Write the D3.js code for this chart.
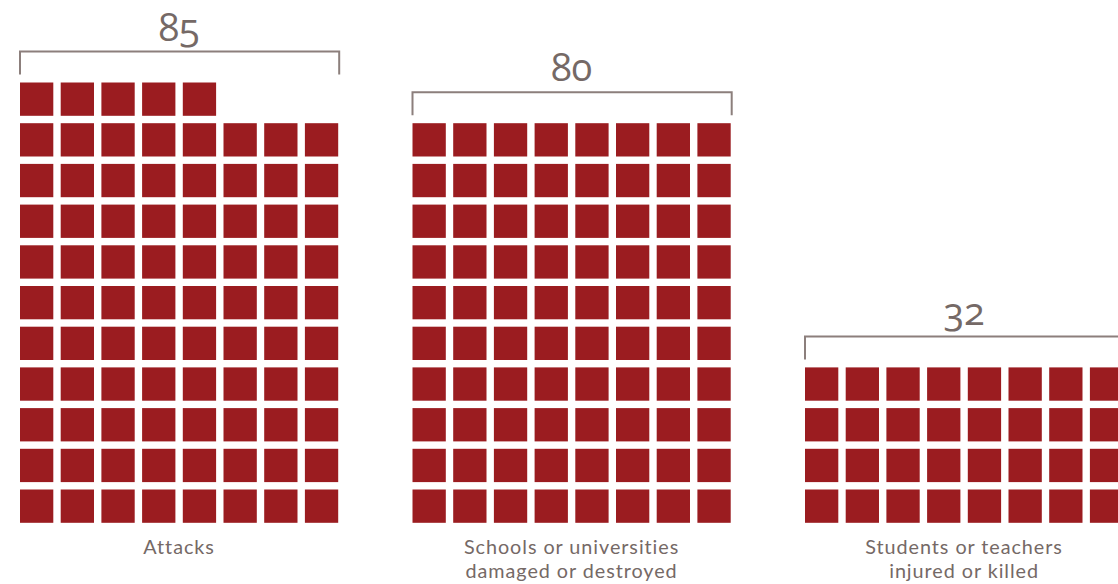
<!DOCTYPE html>
<html>
<head>
<meta charset="utf-8">
<script src="https://cdn.jsdelivr.net/npm/d3@7"></script>
<style>
  html, body { margin: 0; padding: 0; background: #fff; overflow: hidden; }
  svg { display: block; }
  .num { font-family: "Open Sans", "Lato", sans-serif; font-feature-settings: "onum" 1; font-variant-numeric: oldstyle-nums; }
  .lbl { font-family: "Lato", "Open Sans", sans-serif; letter-spacing: 0.95px; }
</style>
</head>
<body>
<svg id="chart" width="1118" height="584"></svg>
<script>
// Counts shown as unit waffles, one square per incident
const categories = ["Attacks", "Schools or universities damaged or destroyed", "Students or teachers injured or killed"];
const values = [85, 80, 32];
const labelLines = [
  ["Attacks"],
  ["Schools or universities", "damaged or destroyed"],
  ["Students or teachers", "injured or killed"]
];
const perRow = 8;

const red = "#9b1c20";
const textGrey = "#756966";
const bracketGrey = "#8c7f7c";

const svg = d3.select("#chart");

const step = 40.7, gap = 7.4;
const pad = gap / step;
const groupW = perRow * step - gap;
const bottom = 522.8;
const maxRows = Math.ceil(d3.max(values) / perRow);

// Group left edges
const gx = d3.scalePoint().domain(categories).range([20, 805]);
// Column positions inside a group
const cx = d3.scaleBand().domain(d3.range(perRow)).range([0, groupW]).paddingInner(pad).paddingOuter(0);
// Row positions counted from the bottom
const ry = d3.scaleBand().domain(d3.range(maxRows))
  .range([bottom, bottom - (maxRows * step - gap)]).paddingInner(pad).paddingOuter(0);

const data = categories.map((c, i) => ({ cat: c, value: values[i], lines: labelLines[i] }));

const groups = svg.selectAll("g.grp").data(data).join("g")
  .attr("class", "grp")
  .attr("transform", d => `translate(${gx(d.cat)},0)`);

groups.selectAll("rect").data(d => d3.range(d.value)).join("rect")
  .attr("x", i => cx(i % perRow))
  .attr("y", i => ry(Math.floor(i / perRow)))
  .attr("width", cx.bandwidth())
  .attr("height", ry.bandwidth())
  .attr("fill", red);

// Bracket, total and caption for each waffle
groups.each(function(d) {
  const g = d3.select(this);
  const rows = Math.ceil(d.value / perRow);
  const top = ry(rows - 1);
  const by = top - 31;
  const x0 = 0, x1 = groupW + 1;
  g.append("path")
    .attr("d", `M${x0},${by + 23}V${by}H${x1}V${by + 23}`)
    .attr("fill", "none")
    .attr("stroke", bracketGrey)
    .attr("stroke-width", 2);
  g.append("text")
    .attr("class", "num")
    .attr("x", groupW / 2)
    .attr("y", by - 11)
    .attr("text-anchor", "middle")
    .attr("font-size", 38)
    .attr("fill", textGrey)
    .text(d3.format("d")(d.value));
  g.append("text")
    .attr("class", "lbl")
    .attr("text-anchor", "middle")
    .attr("font-size", 19.8)
    .attr("fill", textGrey)
    .selectAll("tspan").data(d.lines).join("tspan")
    .attr("x", groupW / 2)
    .attr("y", (t, j) => 554 + j * 24)
    .text(t => t);
});
</script>
</body>
</html>
